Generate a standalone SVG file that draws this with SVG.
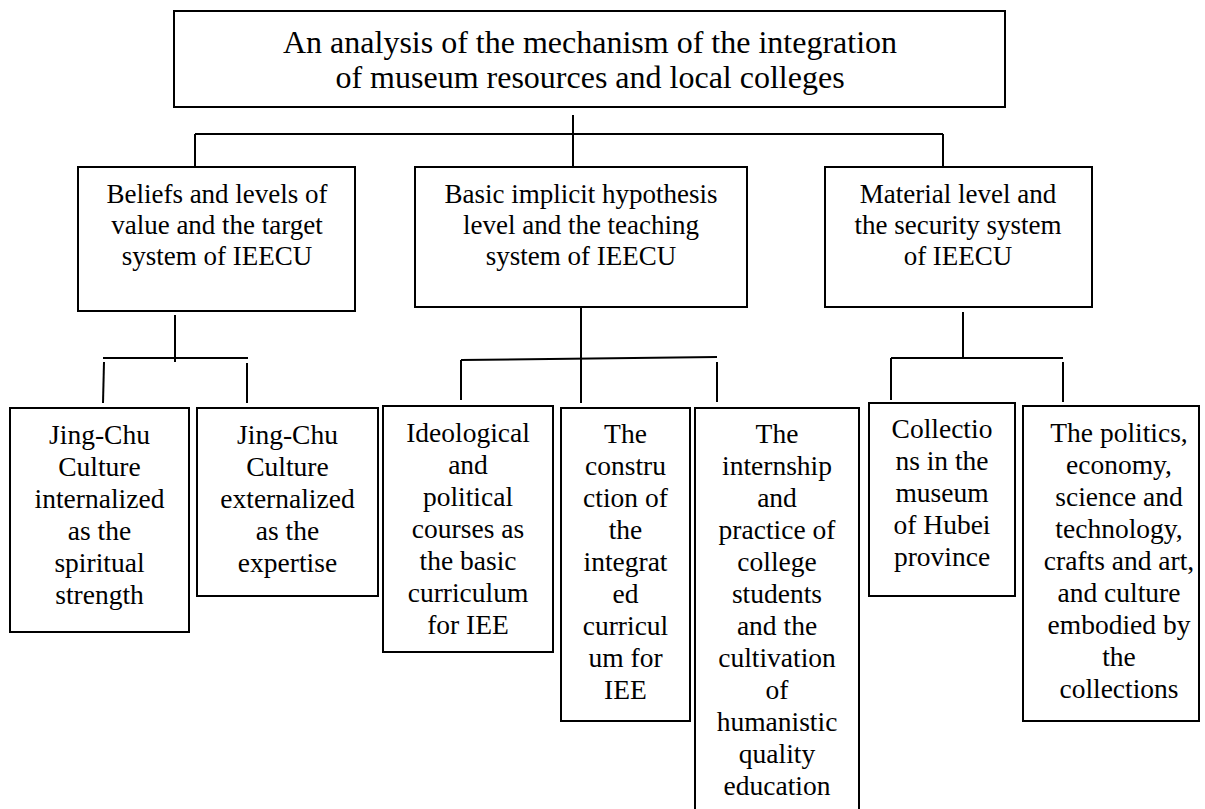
<svg xmlns="http://www.w3.org/2000/svg" width="1205" height="809" viewBox="0 0 1205 809">
<style>
rect.box{fill:#fff;stroke:#000;stroke-width:2}
.c line{stroke:#000;stroke-width:2;fill:none}
text{fill:#000;text-anchor:middle}
.t{font-size:32px}
.m{font-size:27px}
.b{font-size:27.5px}
</style>
<rect width="1205" height="809" fill="#fff"/>
<g class="c" id="connectors">
<line x1="573" y1="115" x2="573" y2="134"/>
<line x1="195" y1="134" x2="943" y2="134"/>
<line x1="195" y1="134" x2="195" y2="167"/>
<line x1="573" y1="134" x2="573" y2="167"/>
<line x1="943" y1="134" x2="943" y2="167"/>
<line x1="175" y1="315" x2="175" y2="362"/>
<line x1="103" y1="358" x2="248" y2="358"/>
<line x1="104" y1="362" x2="103" y2="403"/>
<line x1="247" y1="363" x2="247" y2="403"/>
<line x1="581" y1="307" x2="581" y2="403"/>
<line x1="461" y1="360" x2="717" y2="357"/>
<line x1="461" y1="360" x2="461" y2="400"/>
<line x1="717" y1="362" x2="717" y2="402"/>
<line x1="963" y1="312" x2="963" y2="358"/>
<line x1="891" y1="358" x2="1063" y2="358"/>
<line x1="891" y1="358" x2="891" y2="400"/>
<line x1="1063" y1="362" x2="1063" y2="402"/>
</g>
<g id="root" font-family="Liberation Serif, serif">
<rect class="box" x="174" y="11" width="831" height="96"/>
<text class="t" x="590" y="53">An analysis of the mechanism of the integration</text>
<text class="t" x="590" y="88">of museum resources and local colleges</text>
</g>
<g id="n1" font-family="Liberation Serif, serif">
<rect class="box" x="78" y="167" width="277" height="144"/>
<text class="m" x="217" y="203">Beliefs and levels of</text>
<text class="m" x="217" y="234">value and the target</text>
<text class="m" x="217" y="265">system of IEECU</text>
</g>
<g id="n2" font-family="Liberation Serif, serif">
<rect class="box" x="415" y="167" width="332" height="140"/>
<text class="m" x="581" y="203">Basic implicit hypothesis</text>
<text class="m" x="581" y="234">level and the teaching</text>
<text class="m" x="581" y="265">system of IEECU</text>
</g>
<g id="n3" font-family="Liberation Serif, serif">
<rect class="box" x="825" y="167" width="267" height="140"/>
<text class="m" x="958" y="203">Material level and</text>
<text class="m" x="958" y="234">the security system</text>
<text class="m" x="958" y="265">of IEECU</text>
</g>
<g id="n1a" font-family="Liberation Serif, serif">
<rect class="box" x="10" y="408" width="179" height="224"/>
<text class="b" x="99.5"><tspan x="99.5" y="444">Jing-Chu</tspan><tspan x="99.5" y="476">Culture</tspan><tspan x="99.5" y="508">internalized</tspan><tspan x="99.5" y="540">as the</tspan><tspan x="99.5" y="572">spiritual</tspan><tspan x="99.5" y="604">strength</tspan></text>
</g>
<g id="n1b" font-family="Liberation Serif, serif">
<rect class="box" x="197" y="408" width="181" height="188"/>
<text class="b" x="287.5"><tspan x="287.5" y="444">Jing-Chu</tspan><tspan x="287.5" y="476">Culture</tspan><tspan x="287.5" y="508">externalized</tspan><tspan x="287.5" y="540">as the</tspan><tspan x="287.5" y="572">expertise</tspan></text>
</g>
<g id="n2a" font-family="Liberation Serif, serif">
<rect class="box" x="383" y="406" width="170" height="246"/>
<text class="b" x="468"><tspan x="468" y="442">Ideological</tspan><tspan x="468" y="474">and</tspan><tspan x="468" y="506">political</tspan><tspan x="468" y="538">courses as</tspan><tspan x="468" y="570">the basic</tspan><tspan x="468" y="602">curriculum</tspan><tspan x="468" y="634">for IEE</tspan></text>
</g>
<g id="n2b" font-family="Liberation Serif, serif">
<rect class="box" x="561" y="408" width="129" height="313"/>
<text class="b" x="625.5"><tspan x="625.5" y="443">The</tspan><tspan x="625.5" y="475">constru</tspan><tspan x="625.5" y="507">ction of</tspan><tspan x="625.5" y="539">the</tspan><tspan x="625.5" y="571">integrat</tspan><tspan x="625.5" y="603">ed</tspan><tspan x="625.5" y="635">curricul</tspan><tspan x="625.5" y="667">um for</tspan><tspan x="625.5" y="699">IEE</tspan></text>
</g>
<g id="n2c" font-family="Liberation Serif, serif">
<rect class="box" x="695" y="408" width="164" height="410"/>
<text class="b" x="777"><tspan x="777" y="443">The</tspan><tspan x="777" y="475">internship</tspan><tspan x="777" y="507">and</tspan><tspan x="777" y="539">practice of</tspan><tspan x="777" y="571">college</tspan><tspan x="777" y="603">students</tspan><tspan x="777" y="635">and the</tspan><tspan x="777" y="667">cultivation</tspan><tspan x="777" y="699">of</tspan><tspan x="777" y="731">humanistic</tspan><tspan x="777" y="763">quality</tspan><tspan x="777" y="795">education</tspan></text>
</g>
<g id="n3a" font-family="Liberation Serif, serif">
<rect class="box" x="869" y="403" width="146" height="193"/>
<text class="b" x="942"><tspan x="942" y="438">Collectio</tspan><tspan x="942" y="470">ns in the</tspan><tspan x="942" y="502">museum</tspan><tspan x="942" y="534">of Hubei</tspan><tspan x="942" y="566">province</tspan></text>
</g>
<g id="n3b" font-family="Liberation Serif, serif">
<rect class="box" x="1023" y="406" width="176" height="315"/>
<text class="b" x="1119"><tspan x="1119" y="442">The politics,</tspan><tspan x="1119" y="474">economy,</tspan><tspan x="1119" y="506">science and</tspan><tspan x="1119" y="538">technology,</tspan><tspan x="1119" y="570">crafts and art,</tspan><tspan x="1119" y="602">and culture</tspan><tspan x="1119" y="634">embodied by</tspan><tspan x="1119" y="666">the</tspan><tspan x="1119" y="698">collections</tspan></text>
</g>
</svg>
